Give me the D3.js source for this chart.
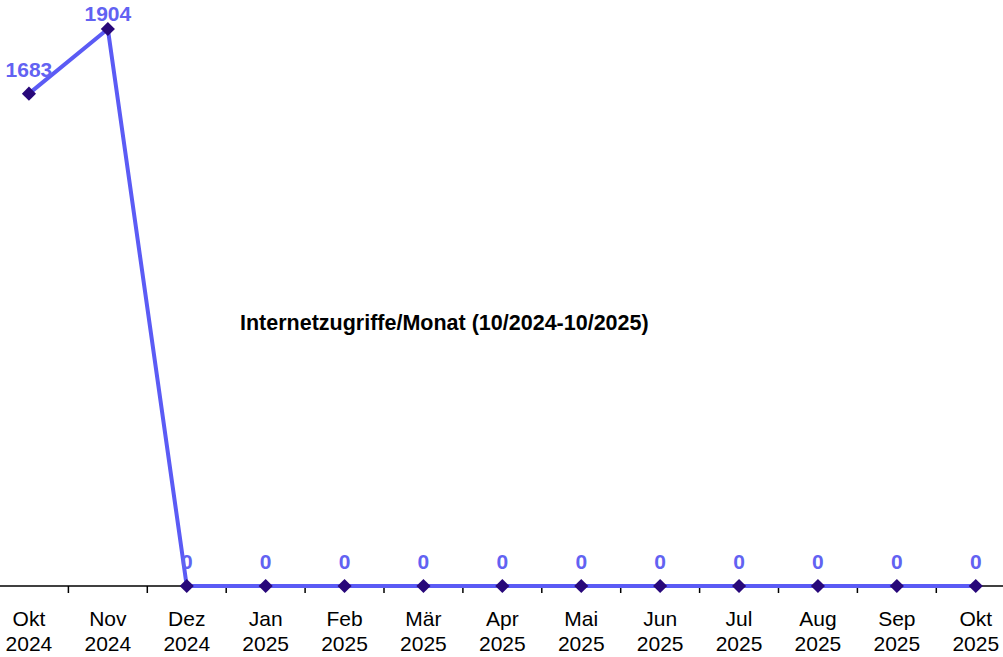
<!DOCTYPE html>
<html><head><meta charset="utf-8">
<script src="https://cdn.jsdelivr.net/npm/d3@7"></script>
<style>body{margin:0;background:#fff;}svg{display:block;}</style>
</head><body>
<svg id="c" width="1003" height="657"></svg>
<script>
const months = ["Okt","Nov","Dez","Jan","Feb","Mär","Apr","Mai","Jun","Jul","Aug","Sep","Okt"];
const years = ["2024","2024","2024","2025","2025","2025","2025","2025","2025","2025","2025","2025","2025"];
const values = [1683,1904,0,0,0,0,0,0,0,0,0,0,0];
const title = "Internetzugriffe/Monat (10/2024-10/2025)";

const svg = d3.select("#c");
const cats = months.map((m,i)=>i);
const x = d3.scaleBand().domain(cats).range([-10.5, 1015.2]).paddingInner(0).paddingOuter(0);
const y = d3.scaleLinear().domain([0,1904]).range([586,29]);
const cx = i => x(i) + x.bandwidth()/2;
const FONT = "Liberation Sans, Arial, sans-serif";

// axis
const ax = svg.append("g").attr("transform","translate(0,586)");
ax.append("line").attr("x1",0).attr("x2",1003).attr("y1",0).attr("y2",0).attr("stroke","#000").attr("stroke-width",1.5);
cats.slice(1).forEach(i=>{
  ax.append("line").attr("x1",x(i)).attr("x2",x(i)).attr("y1",0).attr("y2",7).attr("stroke","#000").attr("stroke-width",1.5);
});
const tl = ax.selectAll("text.t").data(cats).enter().append("text")
  .attr("x",d=>cx(d)).attr("text-anchor","middle")
  .attr("font-family",FONT).attr("font-size",21).attr("fill","#000");
tl.append("tspan").attr("x",d=>cx(d)).attr("y",40).text(d=>months[d]);
tl.append("tspan").attr("x",d=>cx(d)).attr("y",65).text(d=>years[d]);

// line
const line = d3.line().x((d,i)=>cx(i)).y(d=>y(d));
svg.append("path").datum(values).attr("d",line).attr("fill","none")
  .attr("stroke","#5b5bf5").attr("stroke-width",4).attr("stroke-linejoin","round");

// markers
svg.selectAll("path.m").data(values).enter().append("path")
  .attr("d",d3.symbol().type(d3.symbolSquare).size(100))
  .attr("transform",(d,i)=>`translate(${cx(i)},${y(d)}) rotate(45)`)
  .attr("fill","#28087a");

// labels
svg.selectAll("text.v").data(values).enter().append("text")
  .attr("x",(d,i)=>cx(i)).attr("y",d=>Math.max(y(d)-17, 21)).attr("text-anchor","middle")
  .attr("font-family",FONT).attr("font-weight","bold").attr("font-size",21)
  .attr("fill","#6262f2").text(d=>d);

// title
svg.append("text").attr("x",240).attr("y",330).attr("font-family",FONT)
  .attr("font-weight","bold").attr("font-size",21.5).attr("fill","#000").text(title);
</script>
</body></html>
